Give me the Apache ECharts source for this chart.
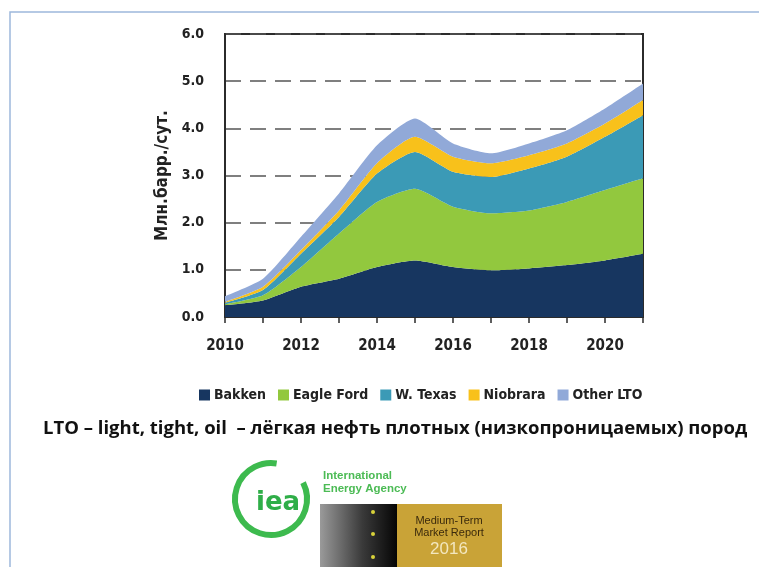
<!DOCTYPE html>
<html>
<head>
<meta charset="utf-8">
<script src="https://cdn.jsdelivr.net/npm/echarts@6/dist/echarts.min.js"></script>
<style>
  html, body { margin: 0; padding: 0; background: #ffffff; }
  #chart { width: 759px; height: 567px; }
</style>
</head>
<body>
<div id="chart"></div>
<script>
// values, mb/d per play (stacked)
const years = ["2010", "2011", "2012", "2013", "2014", "2015", "2016", "2017", "2018", "2019", "2020", "2021"];
const bakken = [0.25, 0.35, 0.64, 0.81, 1.06, 1.2, 1.06, 0.99, 1.03, 1.1, 1.2, 1.34];
const eagleFord = [0.02, 0.11, 0.42, 0.96, 1.38, 1.52, 1.28, 1.21, 1.23, 1.34, 1.49, 1.6];
const wTexas = [0.03, 0.11, 0.28, 0.35, 0.6, 0.78, 0.74, 0.77, 0.89, 0.96, 1.13, 1.34];
const niobrara = [0.02, 0.07, 0.08, 0.14, 0.22, 0.32, 0.32, 0.29, 0.28, 0.28, 0.28, 0.32];
const otherLto = [0.12, 0.17, 0.28, 0.36, 0.38, 0.39, 0.28, 0.21, 0.25, 0.28, 0.32, 0.35];

const seriesNames = ["Bakken", "Eagle Ford", "W. Texas", "Niobrara", "Other LTO"];
const seriesData = [bakken, eagleFord, wTexas, niobrara, otherLto];
const seriesColors = ["#173660", "#92c83e", "#3b9ab6", "#f8c11b", "#91a9d8"];

const narrow = "'DejaVu Sans Condensed', 'DejaVu Sans', sans-serif";

const chart = echarts.init(document.getElementById("chart"));

chart.setOption({
  animation: false,
  color: seriesColors,
  grid: {
    left: 225,
    right: 116,
    top: 34,
    bottom: 250,
    show: true,
    borderColor: "#2b2b2b",
    borderWidth: 2,
  },
  legend: {
    left: 194,
    top: 383,
    icon: "rect",
    itemWidth: 11,
    itemHeight: 11,
    itemGap: 12,
    textStyle: {
      fontFamily: narrow,
      fontWeight: "bold",
      fontSize: 14,
      color: "#222",
      padding: [0, 0, 0, -1],
    },
    data: seriesNames,
  },
  xAxis: {
    type: "category",
    data: years,
    boundaryGap: false,
    axisLine: { lineStyle: { color: "#2b2b2b", width: 2 } },
    axisTick: { show: true, interval: 0, length: 6, lineStyle: { color: "#2b2b2b", width: 1.5 } },
    axisLabel: {
      interval: 1,
      margin: 22,
      fontFamily: narrow,
      fontWeight: "bold",
      fontSize: 15,
      color: "#222",
    },
    splitLine: { show: false },
  },
  yAxis: {
    type: "value",
    min: 0,
    max: 6,
    interval: 1,
    name: "Млн.барр./сут.",
    nameLocation: "middle",
    nameRotate: 90,
    nameGap: 50,
    nameTextStyle: {
      fontFamily: narrow,
      fontWeight: "bold",
      fontSize: 17,
      color: "#222",
    },
    axisLine: { show: true, lineStyle: { color: "#2b2b2b", width: 2 } },
    axisTick: { show: false },
    axisLabel: {
      margin: 21,
      formatter: (v) => v.toFixed(1),
      fontFamily: narrow,
      fontWeight: "bold",
      fontSize: 14,
      color: "#222",
    },
    splitLine: {
      show: true,
      lineStyle: { color: "#555", width: 1.5, type: [16, 9] },
    },
  },
  series: seriesNames.map((name, i) => ({
    name: name,
    type: "line",
    stack: "total",
    smooth: 0.2,
    showSymbol: false,
    lineStyle: { width: 0 },
    areaStyle: { opacity: 1, color: seriesColors[i] },
    data: seriesData[i],
  })),
  graphic: [
    {
      type: "rect",
      shape: { x: 10, y: 12, width: 780, height: 600 },
      style: { fill: "none", stroke: "#9db8dc", lineWidth: 1.5 },
    },
    {
      type: "text",
      left: 43,
      top: 419,
      style: {
        text: "LTO – light, tight, oil  – лёгкая нефть плотных (низкопроницаемых) пород",
        fontFamily: "'Open Sans', sans-serif",
        fontWeight: "bold",
        fontSize: 18.5,
        fill: "#111",
      },
    },
    // IEA logo
    {
      type: "arc",
      shape: { cx: 271, cy: 499, r: 36, startAngle: -Math.PI * 0.15, endAngle: Math.PI * 1.55 },
      style: { stroke: "#3dba4e", lineWidth: 6, fill: "none" },
    },
    {
      type: "text",
      left: 256,
      top: 490,
      style: { text: "iea", fontFamily: "'DejaVu Sans', sans-serif", fontWeight: "bold", fontSize: 26, fill: "#2fae48" },
    },
    {
      type: "text",
      left: 323,
      top: 469,
      style: {
        text: "International\nEnergy Agency",
        fontFamily: "'Liberation Sans', sans-serif",
        fontWeight: "bold",
        fontSize: 11.5,
        lineHeight: 13,
        fill: "#4cbb55",
      },
    },
    {
      type: "rect",
      shape: { x: 320, y: 504, width: 77, height: 63 },
      style: {
        fill: new echarts.graphic.LinearGradient(0, 0, 1, 0, [
          { offset: 0, color: "#9a9a9a" },
          { offset: 0.55, color: "#3a3a3a" },
          { offset: 1, color: "#050505" },
        ]),
      },
    },
    { type: "circle", shape: { cx: 373, cy: 512, r: 2 }, style: { fill: "#d8d23a" } },
    { type: "circle", shape: { cx: 373, cy: 534, r: 2 }, style: { fill: "#d8d23a" } },
    { type: "circle", shape: { cx: 373, cy: 557, r: 2 }, style: { fill: "#d8d23a" } },
    {
      type: "rect",
      shape: { x: 397, y: 504, width: 105, height: 63 },
      style: { fill: "#c9a337" },
    },
    {
      type: "text",
      x: 449,
      y: 515,
      style: {
        text: "Medium-Term\nMarket Report",
        align: "center",
        fontFamily: "'Liberation Sans', sans-serif",
        fontSize: 11,
        lineHeight: 12,
        fill: "#3b2a0c",
      },
    },
    {
      type: "text",
      x: 449,
      y: 541,
      style: {
        text: "2016",
        align: "center",
        fontFamily: "'Liberation Sans', sans-serif",
        fontSize: 17,
        fill: "#f3e7bf",
      },
    },
  ],
});
</script>
</body>
</html>
